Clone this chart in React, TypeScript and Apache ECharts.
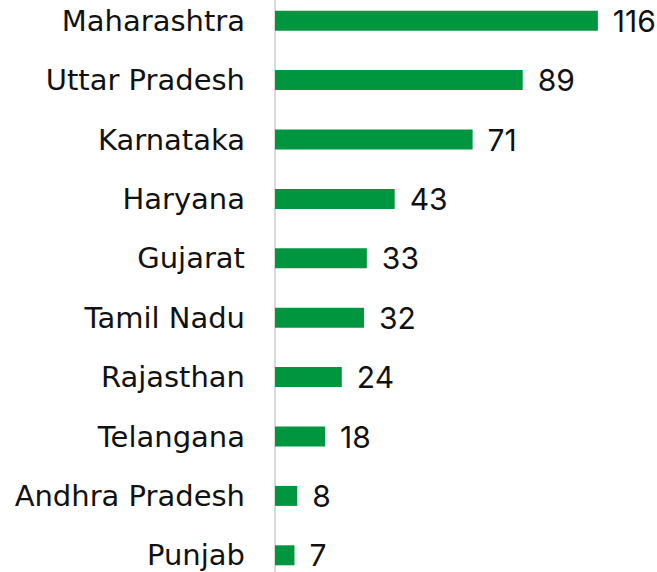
import React, { useEffect, useRef } from "react";
import * as echarts from "echarts";

const categories = [
  "Maharashtra",
  "Uttar Pradesh",
  "Karnataka",
  "Haryana",
  "Gujarat",
  "Tamil Nadu",
  "Rajasthan",
  "Telangana",
  "Andhra Pradesh",
  "Punjab",
];
const values = [116, 89, 71, 43, 33, 32, 24, 18, 8, 7];

export default function App() {
  const ref = useRef<HTMLDivElement>(null);
  useEffect(() => {
    if (!ref.current) return;
    const chart = echarts.init(ref.current, undefined, { renderer: "svg" });
    chart.setOption({
      animation: false,
      grid: { left: 275, right: 48, top: 0, bottom: 0, containLabel: false },
      xAxis: {
        type: "value",
        min: 0,
        max: 120,
        show: false,
      },
      yAxis: {
        type: "category",
        inverse: true,
        data: categories,
        axisLine: { show: true, lineStyle: { color: "#d9d9d9", width: 2 } },
        axisTick: { show: false },
        axisLabel: {
          margin: 30,
          color: "#111",
          fontSize: 29,
          fontFamily: "DejaVu Sans",
        },
      },
      series: [
        {
          type: "bar",
          data: values,
          barWidth: 20,
          itemStyle: { color: "#009640" },
          label: {
            show: true,
            position: "right",
            distance: 15,
            color: "#111",
            fontSize: 30,
            fontFamily: "Inter",
          },
        },
      ],
    });
    return () => chart.dispose();
  }, []);
  return (
    <div
      ref={ref}
      style={{ position: "absolute", left: 0, top: -9.4, width: 657, height: 594.4 }}
    />
  );
}
